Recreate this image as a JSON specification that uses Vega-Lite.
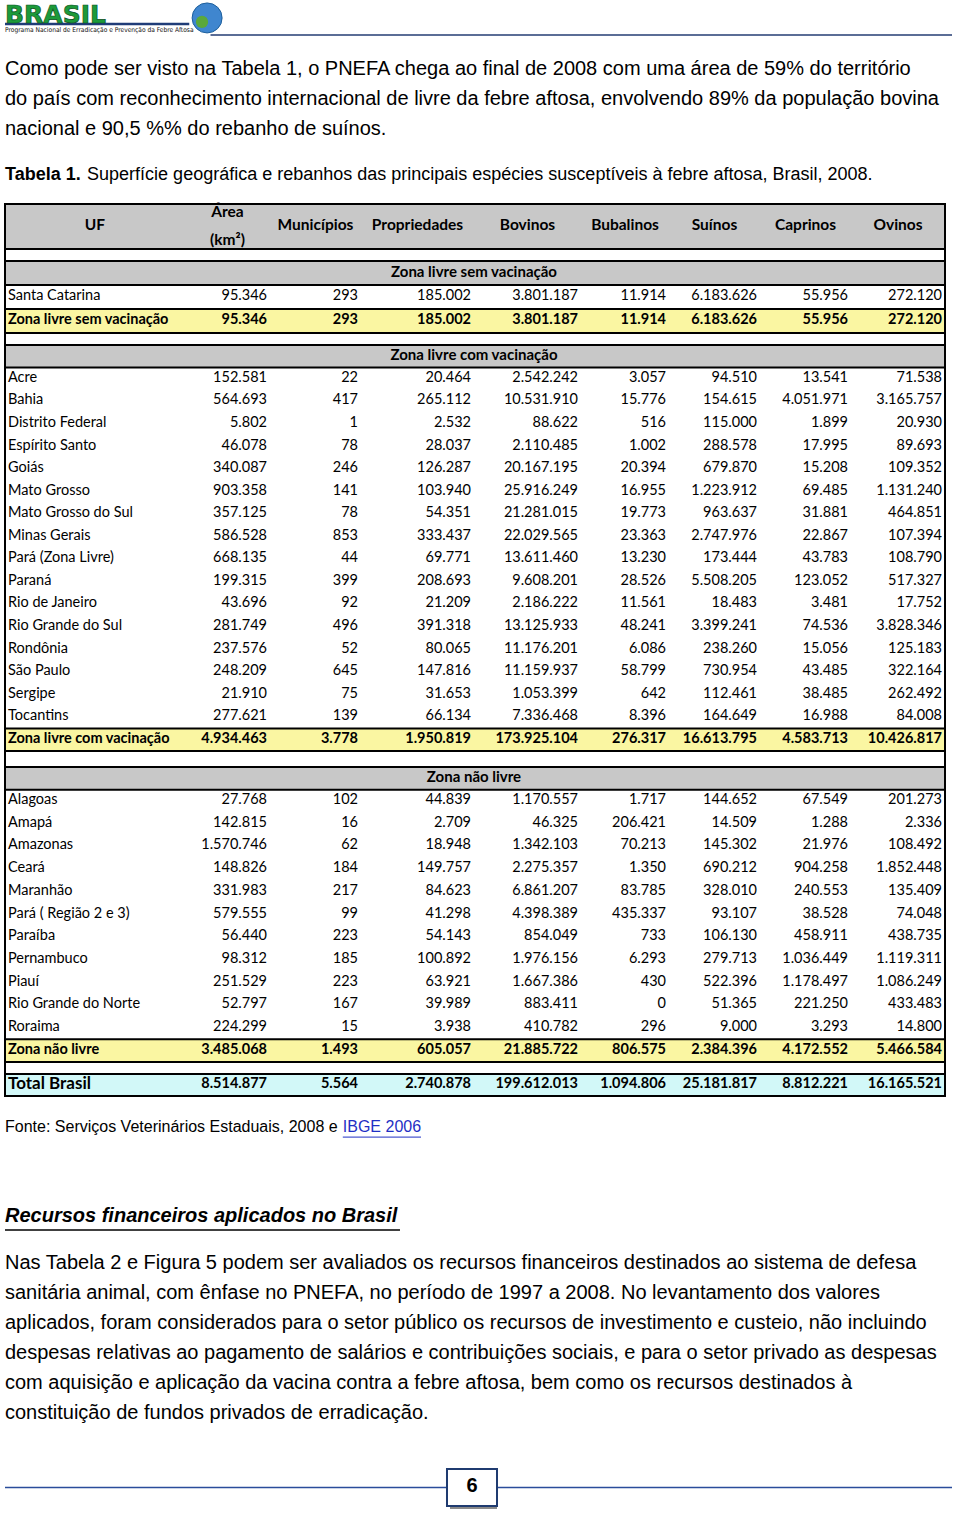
{
 "$schema": "https://vega.github.io/schema/vega-lite/v6.json",
 "width": 960, "height": 1513,
 "autosize": {"type": "fit", "contains": "padding"},
 "padding": 0,
 "background": "white",
 "config": {"view": {"stroke": null}, "locale": {"number": {"decimal": ",", "thousands": ".", "grouping": [3], "currency": ["R$", ""]}}},
 "datasets": {
  "colunas": [
   {"campo":"uf","rotulo":"UF","meio":1.5,"fim":2},
   {"campo":"area","rotulo":"Área\n(km²)","meio":2.5,"fim":3},
   {"campo":"municipios","rotulo":"Municípios","meio":3.5,"fim":4},
   {"campo":"propriedades","rotulo":"Propriedades","meio":4.5,"fim":5},
   {"campo":"bovinos","rotulo":"Bovinos","meio":5.5,"fim":6},
   {"campo":"bubalinos","rotulo":"Bubalinos","meio":6.5,"fim":7},
   {"campo":"suinos","rotulo":"Suínos","meio":7.5,"fim":8},
   {"campo":"caprinos","rotulo":"Caprinos","meio":8.5,"fim":9},
   {"campo":"ovinos","rotulo":"Ovinos","meio":9.5,"fim":10}
  ],
  "paragrafos": [
   {"bloco":"p1","linha":1,"texto":"Como pode ser visto na Tabela 1, o PNEFA chega ao final de 2008 com uma área de 59% do território"},
   {"bloco":"p1","linha":2,"texto":"do país com reconhecimento internacional de livre da febre aftosa, envolvendo 89% da população bovina"},
   {"bloco":"p1","linha":3,"texto":"nacional e 90,5 %% do rebanho de suínos."},
   {"bloco":"p2","linha":1,"texto":"Nas Tabela 2 e Figura 5 podem ser avaliados os recursos financeiros destinados ao sistema de defesa"},
   {"bloco":"p2","linha":2,"texto":"sanitária animal, com ênfase no PNEFA, no período de 1997 a 2008. No levantamento dos valores"},
   {"bloco":"p2","linha":3,"texto":"aplicados, foram considerados para o setor público os recursos de investimento e custeio, não incluindo"},
   {"bloco":"p2","linha":4,"texto":"despesas relativas ao pagamento de salários e contribuições sociais, e para o setor privado as despesas"},
   {"bloco":"p2","linha":5,"texto":"com aquisição e aplicação da vacina contra a febre aftosa, bem como os recursos destinados à"},
   {"bloco":"p2","linha":6,"texto":"constituição de fundos privados de erradicação."}
  ],
  "tabela": [
   {"zona":"Zona livre sem vacinação","tipo":"estado","uf":"Santa Catarina","area":95346,"municipios":293,"propriedades":185002,"bovinos":3801187,"bubalinos":11914,"suinos":6183626,"caprinos":55956,"ovinos":272120},
   {"zona":"Zona livre sem vacinação","tipo":"total","uf":"Zona livre sem vacinação","area":95346,"municipios":293,"propriedades":185002,"bovinos":3801187,"bubalinos":11914,"suinos":6183626,"caprinos":55956,"ovinos":272120},
   {"zona":"Zona livre com vacinação","tipo":"estado","uf":"Acre","area":152581,"municipios":22,"propriedades":20464,"bovinos":2542242,"bubalinos":3057,"suinos":94510,"caprinos":13541,"ovinos":71538},
   {"zona":"Zona livre com vacinação","tipo":"estado","uf":"Bahia","area":564693,"municipios":417,"propriedades":265112,"bovinos":10531910,"bubalinos":15776,"suinos":154615,"caprinos":4051971,"ovinos":3165757},
   {"zona":"Zona livre com vacinação","tipo":"estado","uf":"Distrito Federal","area":5802,"municipios":1,"propriedades":2532,"bovinos":88622,"bubalinos":516,"suinos":115000,"caprinos":1899,"ovinos":20930},
   {"zona":"Zona livre com vacinação","tipo":"estado","uf":"Espírito Santo","area":46078,"municipios":78,"propriedades":28037,"bovinos":2110485,"bubalinos":1002,"suinos":288578,"caprinos":17995,"ovinos":89693},
   {"zona":"Zona livre com vacinação","tipo":"estado","uf":"Goiás","area":340087,"municipios":246,"propriedades":126287,"bovinos":20167195,"bubalinos":20394,"suinos":679870,"caprinos":15208,"ovinos":109352},
   {"zona":"Zona livre com vacinação","tipo":"estado","uf":"Mato Grosso","area":903358,"municipios":141,"propriedades":103940,"bovinos":25916249,"bubalinos":16955,"suinos":1223912,"caprinos":69485,"ovinos":1131240},
   {"zona":"Zona livre com vacinação","tipo":"estado","uf":"Mato Grosso do Sul","area":357125,"municipios":78,"propriedades":54351,"bovinos":21281015,"bubalinos":19773,"suinos":963637,"caprinos":31881,"ovinos":464851},
   {"zona":"Zona livre com vacinação","tipo":"estado","uf":"Minas Gerais","area":586528,"municipios":853,"propriedades":333437,"bovinos":22029565,"bubalinos":23363,"suinos":2747976,"caprinos":22867,"ovinos":107394},
   {"zona":"Zona livre com vacinação","tipo":"estado","uf":"Pará (Zona Livre)","area":668135,"municipios":44,"propriedades":69771,"bovinos":13611460,"bubalinos":13230,"suinos":173444,"caprinos":43783,"ovinos":108790},
   {"zona":"Zona livre com vacinação","tipo":"estado","uf":"Paraná","area":199315,"municipios":399,"propriedades":208693,"bovinos":9608201,"bubalinos":28526,"suinos":5508205,"caprinos":123052,"ovinos":517327},
   {"zona":"Zona livre com vacinação","tipo":"estado","uf":"Rio de Janeiro","area":43696,"municipios":92,"propriedades":21209,"bovinos":2186222,"bubalinos":11561,"suinos":18483,"caprinos":3481,"ovinos":17752},
   {"zona":"Zona livre com vacinação","tipo":"estado","uf":"Rio Grande do Sul","area":281749,"municipios":496,"propriedades":391318,"bovinos":13125933,"bubalinos":48241,"suinos":3399241,"caprinos":74536,"ovinos":3828346},
   {"zona":"Zona livre com vacinação","tipo":"estado","uf":"Rondônia","area":237576,"municipios":52,"propriedades":80065,"bovinos":11176201,"bubalinos":6086,"suinos":238260,"caprinos":15056,"ovinos":125183},
   {"zona":"Zona livre com vacinação","tipo":"estado","uf":"São Paulo","area":248209,"municipios":645,"propriedades":147816,"bovinos":11159937,"bubalinos":58799,"suinos":730954,"caprinos":43485,"ovinos":322164},
   {"zona":"Zona livre com vacinação","tipo":"estado","uf":"Sergipe","area":21910,"municipios":75,"propriedades":31653,"bovinos":1053399,"bubalinos":642,"suinos":112461,"caprinos":38485,"ovinos":262492},
   {"zona":"Zona livre com vacinação","tipo":"estado","uf":"Tocantins","area":277621,"municipios":139,"propriedades":66134,"bovinos":7336468,"bubalinos":8396,"suinos":164649,"caprinos":16988,"ovinos":84008},
   {"zona":"Zona livre com vacinação","tipo":"total","uf":"Zona livre com vacinação","area":4934463,"municipios":3778,"propriedades":1950819,"bovinos":173925104,"bubalinos":276317,"suinos":16613795,"caprinos":4583713,"ovinos":10426817},
   {"zona":"Zona não livre","tipo":"estado","uf":"Alagoas","area":27768,"municipios":102,"propriedades":44839,"bovinos":1170557,"bubalinos":1717,"suinos":144652,"caprinos":67549,"ovinos":201273},
   {"zona":"Zona não livre","tipo":"estado","uf":"Amapá","area":142815,"municipios":16,"propriedades":2709,"bovinos":46325,"bubalinos":206421,"suinos":14509,"caprinos":1288,"ovinos":2336},
   {"zona":"Zona não livre","tipo":"estado","uf":"Amazonas","area":1570746,"municipios":62,"propriedades":18948,"bovinos":1342103,"bubalinos":70213,"suinos":145302,"caprinos":21976,"ovinos":108492},
   {"zona":"Zona não livre","tipo":"estado","uf":"Ceará","area":148826,"municipios":184,"propriedades":149757,"bovinos":2275357,"bubalinos":1350,"suinos":690212,"caprinos":904258,"ovinos":1852448},
   {"zona":"Zona não livre","tipo":"estado","uf":"Maranhão","area":331983,"municipios":217,"propriedades":84623,"bovinos":6861207,"bubalinos":83785,"suinos":328010,"caprinos":240553,"ovinos":135409},
   {"zona":"Zona não livre","tipo":"estado","uf":"Pará ( Região 2 e 3)","area":579555,"municipios":99,"propriedades":41298,"bovinos":4398389,"bubalinos":435337,"suinos":93107,"caprinos":38528,"ovinos":74048},
   {"zona":"Zona não livre","tipo":"estado","uf":"Paraíba","area":56440,"municipios":223,"propriedades":54143,"bovinos":854049,"bubalinos":733,"suinos":106130,"caprinos":458911,"ovinos":438735},
   {"zona":"Zona não livre","tipo":"estado","uf":"Pernambuco","area":98312,"municipios":185,"propriedades":100892,"bovinos":1976156,"bubalinos":6293,"suinos":279713,"caprinos":1036449,"ovinos":1119311},
   {"zona":"Zona não livre","tipo":"estado","uf":"Piauí","area":251529,"municipios":223,"propriedades":63921,"bovinos":1667386,"bubalinos":430,"suinos":522396,"caprinos":1178497,"ovinos":1086249},
   {"zona":"Zona não livre","tipo":"estado","uf":"Rio Grande do Norte","area":52797,"municipios":167,"propriedades":39989,"bovinos":883411,"bubalinos":0,"suinos":51365,"caprinos":221250,"ovinos":433483},
   {"zona":"Zona não livre","tipo":"estado","uf":"Roraima","area":224299,"municipios":15,"propriedades":3938,"bovinos":410782,"bubalinos":296,"suinos":9000,"caprinos":3293,"ovinos":14800},
   {"zona":"Zona não livre","tipo":"total","uf":"Zona não livre","area":3485068,"municipios":1493,"propriedades":605057,"bovinos":21885722,"bubalinos":806575,"suinos":2384396,"caprinos":4172552,"ovinos":5466584},
   {"zona":"Brasil","tipo":"brasil","uf":"Total Brasil","area":8514877,"municipios":5564,"propriedades":2740878,"bovinos":199612013,"bubalinos":1094806,"suinos":25181817,"caprinos":8812221,"ovinos":16165521}
  ]
 },
 "resolve": {"scale": {"y": "independent"}},
 "layer": [
  {
   "data": {"values": [{"marca": "BRASIL", "programa": "Programa Nacional de Erradicação e Prevenção da Febre Aftosa"}]},
   "layer": [
    {"mark": {"type": "rule", "stroke": "#5b6d96", "strokeWidth": 2},
     "encoding": {"x": {"datum": 2.3, "type": "quantitative", "axis": null, "scale": {"type":"linear","domain":[0,1,2,3,4,5,6,7,8,9,10,11],"range":[0,5,185,270,361,474,581,669,760,851,945,952],"zero":false,"nice":false}}, "x2": {"datum": 11},
      "y": {"datum": "programa", "type": "nominal", "bandPosition": 0.78, "axis": null, "scale": {"type": "band", "domain": ["marca", "programa"], "range": [2, 38], "paddingInner": 0, "paddingOuter": 0}}}},
    {"mark": {"type": "rule", "stroke": "#1f3c78", "strokeWidth": 2.5},
     "encoding": {"x": {"datum": 1, "type": "quantitative", "axis": null, "scale": {"type":"linear","domain":[0,1,2,3,4,5,6,7,8,9,10,11],"range":[0,5,185,270,361,474,581,669,760,851,945,952],"zero":false,"nice":false}}, "x2": {"datum": 2.05},
      "y": {"datum": "programa", "type": "nominal", "bandPosition": 0.17}}},
    {"mark": {"type": "text", "align": "left", "baseline": "middle", "dy": 3, "font": "DejaVu Sans", "fontWeight": "bold", "fontSize": 25, "fill": "#1c9a3a", "stroke": "#0d4f22", "strokeWidth": 0.7},
     "encoding": {"text": {"field": "marca"}, "x": {"datum": 1, "type": "quantitative", "axis": null, "scale": {"type":"linear","domain":[0,1,2,3,4,5,6,7,8,9,10,11],"range":[0,5,185,270,361,474,581,669,760,851,945,952],"zero":false,"nice":false}},
      "y": {"datum": "marca", "type": "nominal"}}},
    {"mark": {"type": "text", "align": "left", "baseline": "middle", "font": "Liberation Sans Narrow, DejaVu Sans Condensed, Liberation Sans", "fontSize": 6.6, "fill": "#111111"},
     "encoding": {"text": {"field": "programa"}, "x": {"datum": 1, "type": "quantitative", "axis": null, "scale": {"type":"linear","domain":[0,1,2,3,4,5,6,7,8,9,10,11],"range":[0,5,185,270,361,474,581,669,760,851,945,952],"zero":false,"nice":false}},
      "y": {"datum": "programa", "type": "nominal"}}},
    {"mark": {"type": "point", "shape": "circle", "filled": true, "size": 900, "fill": "#3f86cf", "stroke": "#1d5f9c", "strokeWidth": 1, "opacity": 1},
     "encoding": {"x": {"datum": 2.26, "type": "quantitative", "axis": null, "scale": {"type":"linear","domain":[0,1,2,3,4,5,6,7,8,9,10,11],"range":[0,5,185,270,361,474,581,669,760,851,945,952],"zero":false,"nice":false}},
      "y": {"datum": "marca", "type": "nominal", "bandPosition": 0.83}}},
    {"mark": {"type": "point", "shape": "circle", "filled": true, "size": 150, "fill": "#5aa83c", "opacity": 1},
     "encoding": {"x": {"datum": 2.2, "type": "quantitative", "axis": null, "scale": {"type":"linear","domain":[0,1,2,3,4,5,6,7,8,9,10,11],"range":[0,5,185,270,361,474,581,669,760,851,945,952],"zero":false,"nice":false}},
      "y": {"datum": "programa", "type": "nominal", "bandPosition": 0.05}}}
   ]
  },
  {
   "data": {"name": "paragrafos"},
   "transform": [{"filter": "datum.bloco == 'p1'"}],
   "mark": {"type": "text", "align": "left", "baseline": "middle", "dy": -2.5, "font": "Liberation Sans", "fontSize": 20, "fill": "#000000"},
   "encoding": {"text": {"field": "texto"},
    "x": {"datum": 1, "type": "quantitative", "axis": null, "scale": {"type":"linear","domain":[0,1,2,3,4,5,6,7,8,9,10,11],"range":[0,5,185,270,361,474,581,669,760,851,945,952],"zero":false,"nice":false}},
    "y": {"field": "linha", "type": "ordinal", "axis": null, "scale": {"type": "band", "domain": [1, 2, 3], "range": [55, 145], "paddingInner": 0, "paddingOuter": 0}}}
  },
  {
   "data": {"values": [{"rotulo": "Tabela 1.", "titulo": "Superfície geográfica e rebanhos das principais espécies susceptíveis à febre aftosa, Brasil, 2008."}]},
   "layer": [
    {"mark": {"type": "text", "align": "left", "baseline": "middle", "dy": -1.5, "font": "Liberation Sans", "fontWeight": "bold", "fontSize": 18, "fill": "#000000"},
     "encoding": {"text": {"field": "rotulo"}, "x": {"datum": 1, "type": "quantitative", "axis": null, "scale": {"type":"linear","domain":[0,1,2,3,4,5,6,7,8,9,10,11],"range":[0,5,185,270,361,474,581,669,760,851,945,952],"zero":false,"nice":false}},
      "y": {"datum": "legenda", "type": "nominal", "axis": null, "scale": {"type": "band", "domain": ["legenda"], "range": [160, 190], "paddingInner": 0, "paddingOuter": 0}}}},
    {"mark": {"type": "text", "align": "left", "baseline": "middle", "dy": -1.5, "font": "Liberation Sans", "fontSize": 18, "fill": "#000000"},
     "encoding": {"text": {"field": "titulo"}, "x": {"datum": 1.456, "type": "quantitative", "axis": null, "scale": {"type":"linear","domain":[0,1,2,3,4,5,6,7,8,9,10,11],"range":[0,5,185,270,361,474,581,669,760,851,945,952],"zero":false,"nice":false}},
      "y": {"datum": "legenda", "type": "nominal"}}}
   ]
  },
  {
   "layer": [
    {"data": {"values": [{"linha": "cabeçalho"}]},
     "mark": {"type": "rect", "fill": "#c8c8c8", "stroke": "#000000", "strokeWidth": 2},
     "encoding": {"x": {"datum": 1, "type": "quantitative", "axis": null, "scale": {"type":"linear","domain":[0,1,2,3,4,5,6,7,8,9,10,11],"range":[0,5,185,270,361,474,581,669,760,851,945,952],"zero":false,"nice":false}}, "x2": {"datum": 10},
      "y": {"field": "linha", "type": "nominal", "axis": null, "scale": {"type": "band", "domain": ["cabeçalho"], "range": [203, 248], "paddingInner": 0, "paddingOuter": 0}}}},
    {"data": {"name": "colunas"},
     "transform": [{"filter": "datum.campo != 'area'"}],
     "mark": {"type": "text", "align": "center", "baseline": "middle", "dy": -1.5, "font": "Lato", "fontWeight": "bold", "fontSize": 15.5, "fill": "#000000"},
     "encoding": {"text": {"field": "rotulo"}, "x": {"field": "meio", "type": "quantitative", "axis": null, "scale": {"type":"linear","domain":[0,1,2,3,4,5,6,7,8,9,10,11],"range":[0,5,185,270,361,474,581,669,760,851,945,952],"zero":false,"nice":false}},
      "y": {"datum": "cabeçalho", "type": "nominal"}}},
    {"data": {"name": "colunas"},
     "transform": [{"filter": "datum.campo == 'area'"}],
     "mark": {"type": "text", "align": "center", "baseline": "middle", "dy": -15, "font": "Lato", "fontWeight": "bold", "fontSize": 15.5, "lineBreak": "\n", "lineHeight": 28, "fill": "#000000"},
     "encoding": {"text": {"field": "rotulo"}, "x": {"field": "meio", "type": "quantitative", "axis": null, "scale": {"type":"linear","domain":[0,1,2,3,4,5,6,7,8,9,10,11],"range":[0,5,185,270,361,474,581,669,760,851,945,952],"zero":false,"nice":false}},
      "y": {"datum": "cabeçalho", "type": "nominal"}}}
   ]
  },
  {
   "data": {"name": "tabela"},
   "transform": [{"filter": "datum.zona == 'Zona livre sem vacinação'"}],
   "layer": [
    {"transform": [{"filter": "datum.tipo == 'total'"}],
     "mark": {"type": "rect", "fill": "#c8c8c8", "stroke": "#000000", "strokeWidth": 2},
     "encoding": {"x": {"datum": 1, "type": "quantitative", "axis": null, "scale": {"type":"linear","domain":[0,1,2,3,4,5,6,7,8,9,10,11],"range":[0,5,185,270,361,474,581,669,760,851,945,952],"zero":false,"nice":false}}, "x2": {"datum": 10},
      "y": {"datum": "título", "type": "nominal", "axis": null, "scale": {"type": "band", "domain": ["título", "Santa Catarina", "Zona livre sem vacinação"], "range": [260, 332], "paddingInner": 0, "paddingOuter": 0}}}},
    {"transform": [{"filter": "datum.tipo == 'total'"}],
     "mark": {"type": "rect", "fill": "#faf6a2", "stroke": "#000000", "strokeWidth": 2},
     "encoding": {"x": {"datum": 1, "type": "quantitative", "axis": null, "scale": {"type":"linear","domain":[0,1,2,3,4,5,6,7,8,9,10,11],"range":[0,5,185,270,361,474,581,669,760,851,945,952],"zero":false,"nice":false}}, "x2": {"datum": 10},
      "y": {"field": "uf", "type": "nominal"}}},
    {"transform": [{"filter": "datum.tipo == 'total'"}],
     "mark": {"type": "text", "align": "center", "baseline": "middle", "dy": -1, "font": "Lato", "fontWeight": "bold", "fontSize": 15, "fill": "#000000"},
     "encoding": {"text": {"field": "zona"}, "x": {"datum": 5, "type": "quantitative", "axis": null, "scale": {"type":"linear","domain":[0,1,2,3,4,5,6,7,8,9,10,11],"range":[0,5,185,270,361,474,581,669,760,851,945,952],"zero":false,"nice":false}},
      "y": {"datum": "título", "type": "nominal"}}},
    {"transform": [{"filter": "datum.tipo == 'estado'"}],
     "mark": {"type": "text", "align": "left", "baseline": "middle", "dx": 3, "dy": -1, "font": "Lato", "fontSize": 14.5, "fill": "#000000"},
     "encoding": {"text": {"field": "uf"}, "x": {"datum": 1, "type": "quantitative", "axis": null, "scale": {"type":"linear","domain":[0,1,2,3,4,5,6,7,8,9,10,11],"range":[0,5,185,270,361,474,581,669,760,851,945,952],"zero":false,"nice":false}},
      "y": {"field": "uf", "type": "nominal"}}},
    {"transform": [{"filter": "datum.tipo == 'total'"}],
     "mark": {"type": "text", "align": "left", "baseline": "middle", "dx": 3, "dy": -1, "font": "Lato", "fontWeight": "bold", "fontSize": 14.5, "fill": "#000000"},
     "encoding": {"text": {"field": "uf"}, "x": {"datum": 1, "type": "quantitative", "axis": null, "scale": {"type":"linear","domain":[0,1,2,3,4,5,6,7,8,9,10,11],"range":[0,5,185,270,361,474,581,669,760,851,945,952],"zero":false,"nice":false}},
      "y": {"field": "uf", "type": "nominal"}}},
    {"transform": [{"filter": "datum.tipo == 'estado'"}, {"fold": ["area","municipios","propriedades","bovinos","bubalinos","suinos","caprinos","ovinos"], "as": ["coluna","valor"]}, {"lookup": "coluna", "from": {"data": {"name": "colunas"}, "key": "campo", "fields": ["fim"]}}],
     "mark": {"type": "text", "align": "right", "baseline": "middle", "dx": -3, "dy": -1, "font": "Lato", "fontSize": 14.5, "fill": "#000000"},
     "encoding": {"text": {"field": "valor", "type": "quantitative", "format": ",d"}, "x": {"field": "fim", "type": "quantitative", "axis": null, "scale": {"type":"linear","domain":[0,1,2,3,4,5,6,7,8,9,10,11],"range":[0,5,185,270,361,474,581,669,760,851,945,952],"zero":false,"nice":false}},
      "y": {"field": "uf", "type": "nominal"}}},
    {"transform": [{"filter": "datum.tipo == 'total'"}, {"fold": ["area","municipios","propriedades","bovinos","bubalinos","suinos","caprinos","ovinos"], "as": ["coluna","valor"]}, {"lookup": "coluna", "from": {"data": {"name": "colunas"}, "key": "campo", "fields": ["fim"]}}],
     "mark": {"type": "text", "align": "right", "baseline": "middle", "dx": -3, "dy": -1, "font": "Lato", "fontWeight": "bold", "fontSize": 14.5, "fill": "#000000"},
     "encoding": {"text": {"field": "valor", "type": "quantitative", "format": ",d"}, "x": {"field": "fim", "type": "quantitative", "axis": null, "scale": {"type":"linear","domain":[0,1,2,3,4,5,6,7,8,9,10,11],"range":[0,5,185,270,361,474,581,669,760,851,945,952],"zero":false,"nice":false}},
      "y": {"field": "uf", "type": "nominal"}}}
   ]
  },
  {
   "data": {"name": "tabela"},
   "transform": [{"filter": "datum.zona == 'Zona livre com vacinação'"}],
   "layer": [
    {"transform": [{"filter": "datum.tipo == 'total'"}],
     "mark": {"type": "rect", "fill": "#c8c8c8", "stroke": "#000000", "strokeWidth": 2},
     "encoding": {"x": {"datum": 1, "type": "quantitative", "axis": null, "scale": {"type":"linear","domain":[0,1,2,3,4,5,6,7,8,9,10,11],"range":[0,5,185,270,361,474,581,669,760,851,945,952],"zero":false,"nice":false}}, "x2": {"datum": 10},
      "y": {"datum": "título", "type": "nominal", "axis": null, "scale": {"type": "band", "domain": ["título","Acre","Bahia","Distrito Federal","Espírito Santo","Goiás","Mato Grosso","Mato Grosso do Sul","Minas Gerais","Pará (Zona Livre)","Paraná","Rio de Janeiro","Rio Grande do Sul","Rondônia","São Paulo","Sergipe","Tocantins","Zona livre com vacinação"], "range": [344, 750], "paddingInner": 0, "paddingOuter": 0}}}},
    {"transform": [{"filter": "datum.tipo == 'total'"}],
     "mark": {"type": "rect", "fill": "#faf6a2", "stroke": "#000000", "strokeWidth": 2},
     "encoding": {"x": {"datum": 1, "type": "quantitative", "axis": null, "scale": {"type":"linear","domain":[0,1,2,3,4,5,6,7,8,9,10,11],"range":[0,5,185,270,361,474,581,669,760,851,945,952],"zero":false,"nice":false}}, "x2": {"datum": 10},
      "y": {"field": "uf", "type": "nominal"}}},
    {"transform": [{"filter": "datum.tipo == 'total'"}],
     "mark": {"type": "text", "align": "center", "baseline": "middle", "dy": -1, "font": "Lato", "fontWeight": "bold", "fontSize": 15, "fill": "#000000"},
     "encoding": {"text": {"field": "zona"}, "x": {"datum": 5, "type": "quantitative", "axis": null, "scale": {"type":"linear","domain":[0,1,2,3,4,5,6,7,8,9,10,11],"range":[0,5,185,270,361,474,581,669,760,851,945,952],"zero":false,"nice":false}},
      "y": {"datum": "título", "type": "nominal"}}},
    {"transform": [{"filter": "datum.tipo == 'estado'"}],
     "mark": {"type": "text", "align": "left", "baseline": "middle", "dx": 3, "dy": -1, "font": "Lato", "fontSize": 14.5, "fill": "#000000"},
     "encoding": {"text": {"field": "uf"}, "x": {"datum": 1, "type": "quantitative", "axis": null, "scale": {"type":"linear","domain":[0,1,2,3,4,5,6,7,8,9,10,11],"range":[0,5,185,270,361,474,581,669,760,851,945,952],"zero":false,"nice":false}},
      "y": {"field": "uf", "type": "nominal"}}},
    {"transform": [{"filter": "datum.tipo == 'total'"}],
     "mark": {"type": "text", "align": "left", "baseline": "middle", "dx": 3, "dy": -1, "font": "Lato", "fontWeight": "bold", "fontSize": 14.5, "fill": "#000000"},
     "encoding": {"text": {"field": "uf"}, "x": {"datum": 1, "type": "quantitative", "axis": null, "scale": {"type":"linear","domain":[0,1,2,3,4,5,6,7,8,9,10,11],"range":[0,5,185,270,361,474,581,669,760,851,945,952],"zero":false,"nice":false}},
      "y": {"field": "uf", "type": "nominal"}}},
    {"transform": [{"filter": "datum.tipo == 'estado'"}, {"fold": ["area","municipios","propriedades","bovinos","bubalinos","suinos","caprinos","ovinos"], "as": ["coluna","valor"]}, {"lookup": "coluna", "from": {"data": {"name": "colunas"}, "key": "campo", "fields": ["fim"]}}],
     "mark": {"type": "text", "align": "right", "baseline": "middle", "dx": -3, "dy": -1, "font": "Lato", "fontSize": 14.5, "fill": "#000000"},
     "encoding": {"text": {"field": "valor", "type": "quantitative", "format": ",d"}, "x": {"field": "fim", "type": "quantitative", "axis": null, "scale": {"type":"linear","domain":[0,1,2,3,4,5,6,7,8,9,10,11],"range":[0,5,185,270,361,474,581,669,760,851,945,952],"zero":false,"nice":false}},
      "y": {"field": "uf", "type": "nominal"}}},
    {"transform": [{"filter": "datum.tipo == 'total'"}, {"fold": ["area","municipios","propriedades","bovinos","bubalinos","suinos","caprinos","ovinos"], "as": ["coluna","valor"]}, {"lookup": "coluna", "from": {"data": {"name": "colunas"}, "key": "campo", "fields": ["fim"]}}],
     "mark": {"type": "text", "align": "right", "baseline": "middle", "dx": -3, "dy": -1, "font": "Lato", "fontWeight": "bold", "fontSize": 14.5, "fill": "#000000"},
     "encoding": {"text": {"field": "valor", "type": "quantitative", "format": ",d"}, "x": {"field": "fim", "type": "quantitative", "axis": null, "scale": {"type":"linear","domain":[0,1,2,3,4,5,6,7,8,9,10,11],"range":[0,5,185,270,361,474,581,669,760,851,945,952],"zero":false,"nice":false}},
      "y": {"field": "uf", "type": "nominal"}}}
   ]
  },
  {
   "data": {"name": "tabela"},
   "transform": [{"filter": "datum.zona == 'Zona não livre'"}],
   "layer": [
    {"transform": [{"filter": "datum.tipo == 'total'"}],
     "mark": {"type": "rect", "fill": "#c8c8c8", "stroke": "#000000", "strokeWidth": 2},
     "encoding": {"x": {"datum": 1, "type": "quantitative", "axis": null, "scale": {"type":"linear","domain":[0,1,2,3,4,5,6,7,8,9,10,11],"range":[0,5,185,270,361,474,581,669,760,851,945,952],"zero":false,"nice":false}}, "x2": {"datum": 10},
      "y": {"datum": "título", "type": "nominal", "axis": null, "scale": {"type": "band", "domain": ["título","Alagoas","Amapá","Amazonas","Ceará","Maranhão","Pará ( Região 2 e 3)","Paraíba","Pernambuco","Piauí","Rio Grande do Norte","Roraima","Zona não livre"], "range": [766, 1061], "paddingInner": 0, "paddingOuter": 0}}}},
    {"transform": [{"filter": "datum.tipo == 'total'"}],
     "mark": {"type": "rect", "fill": "#faf6a2", "stroke": "#000000", "strokeWidth": 2},
     "encoding": {"x": {"datum": 1, "type": "quantitative", "axis": null, "scale": {"type":"linear","domain":[0,1,2,3,4,5,6,7,8,9,10,11],"range":[0,5,185,270,361,474,581,669,760,851,945,952],"zero":false,"nice":false}}, "x2": {"datum": 10},
      "y": {"field": "uf", "type": "nominal"}}},
    {"transform": [{"filter": "datum.tipo == 'total'"}],
     "mark": {"type": "text", "align": "center", "baseline": "middle", "dy": -1, "font": "Lato", "fontWeight": "bold", "fontSize": 15, "fill": "#000000"},
     "encoding": {"text": {"field": "zona"}, "x": {"datum": 5, "type": "quantitative", "axis": null, "scale": {"type":"linear","domain":[0,1,2,3,4,5,6,7,8,9,10,11],"range":[0,5,185,270,361,474,581,669,760,851,945,952],"zero":false,"nice":false}},
      "y": {"datum": "título", "type": "nominal"}}},
    {"transform": [{"filter": "datum.tipo == 'estado'"}],
     "mark": {"type": "text", "align": "left", "baseline": "middle", "dx": 3, "dy": -1, "font": "Lato", "fontSize": 14.5, "fill": "#000000"},
     "encoding": {"text": {"field": "uf"}, "x": {"datum": 1, "type": "quantitative", "axis": null, "scale": {"type":"linear","domain":[0,1,2,3,4,5,6,7,8,9,10,11],"range":[0,5,185,270,361,474,581,669,760,851,945,952],"zero":false,"nice":false}},
      "y": {"field": "uf", "type": "nominal"}}},
    {"transform": [{"filter": "datum.tipo == 'total'"}],
     "mark": {"type": "text", "align": "left", "baseline": "middle", "dx": 3, "dy": -1, "font": "Lato", "fontWeight": "bold", "fontSize": 14.5, "fill": "#000000"},
     "encoding": {"text": {"field": "uf"}, "x": {"datum": 1, "type": "quantitative", "axis": null, "scale": {"type":"linear","domain":[0,1,2,3,4,5,6,7,8,9,10,11],"range":[0,5,185,270,361,474,581,669,760,851,945,952],"zero":false,"nice":false}},
      "y": {"field": "uf", "type": "nominal"}}},
    {"transform": [{"filter": "datum.tipo == 'estado'"}, {"fold": ["area","municipios","propriedades","bovinos","bubalinos","suinos","caprinos","ovinos"], "as": ["coluna","valor"]}, {"lookup": "coluna", "from": {"data": {"name": "colunas"}, "key": "campo", "fields": ["fim"]}}],
     "mark": {"type": "text", "align": "right", "baseline": "middle", "dx": -3, "dy": -1, "font": "Lato", "fontSize": 14.5, "fill": "#000000"},
     "encoding": {"text": {"field": "valor", "type": "quantitative", "format": ",d"}, "x": {"field": "fim", "type": "quantitative", "axis": null, "scale": {"type":"linear","domain":[0,1,2,3,4,5,6,7,8,9,10,11],"range":[0,5,185,270,361,474,581,669,760,851,945,952],"zero":false,"nice":false}},
      "y": {"field": "uf", "type": "nominal"}}},
    {"transform": [{"filter": "datum.tipo == 'total'"}, {"fold": ["area","municipios","propriedades","bovinos","bubalinos","suinos","caprinos","ovinos"], "as": ["coluna","valor"]}, {"lookup": "coluna", "from": {"data": {"name": "colunas"}, "key": "campo", "fields": ["fim"]}}],
     "mark": {"type": "text", "align": "right", "baseline": "middle", "dx": -3, "dy": -1, "font": "Lato", "fontWeight": "bold", "fontSize": 14.5, "fill": "#000000"},
     "encoding": {"text": {"field": "valor", "type": "quantitative", "format": ",d"}, "x": {"field": "fim", "type": "quantitative", "axis": null, "scale": {"type":"linear","domain":[0,1,2,3,4,5,6,7,8,9,10,11],"range":[0,5,185,270,361,474,581,669,760,851,945,952],"zero":false,"nice":false}},
      "y": {"field": "uf", "type": "nominal"}}}
   ]
  },
  {
   "data": {"name": "tabela"},
   "transform": [{"filter": "datum.tipo == 'brasil'"}],
   "layer": [
    {"mark": {"type": "rect", "fill": "#d2f8f8", "stroke": "#000000", "strokeWidth": 2},
     "encoding": {"x": {"datum": 1, "type": "quantitative", "axis": null, "scale": {"type":"linear","domain":[0,1,2,3,4,5,6,7,8,9,10,11],"range":[0,5,185,270,361,474,581,669,760,851,945,952],"zero":false,"nice":false}}, "x2": {"datum": 10},
      "y": {"field": "uf", "type": "nominal", "axis": null, "scale": {"type": "band", "domain": ["Total Brasil"], "range": [1073, 1095], "paddingInner": 0, "paddingOuter": 0}}}},
    {"mark": {"type": "text", "align": "left", "baseline": "middle", "dx": 3, "dy": -1, "font": "Lato", "fontWeight": "bold", "fontSize": 17, "fill": "#000000"},
     "encoding": {"text": {"field": "uf"}, "x": {"datum": 1, "type": "quantitative", "axis": null, "scale": {"type":"linear","domain":[0,1,2,3,4,5,6,7,8,9,10,11],"range":[0,5,185,270,361,474,581,669,760,851,945,952],"zero":false,"nice":false}},
      "y": {"field": "uf", "type": "nominal"}}},
    {"transform": [{"fold": ["area","municipios","propriedades","bovinos","bubalinos","suinos","caprinos","ovinos"], "as": ["coluna","valor"]}, {"lookup": "coluna", "from": {"data": {"name": "colunas"}, "key": "campo", "fields": ["fim"]}}],
     "mark": {"type": "text", "align": "right", "baseline": "middle", "dx": -3, "dy": -1, "font": "Lato", "fontWeight": "bold", "fontSize": 14.5, "fill": "#000000"},
     "encoding": {"text": {"field": "valor", "type": "quantitative", "format": ",d"}, "x": {"field": "fim", "type": "quantitative", "axis": null, "scale": {"type":"linear","domain":[0,1,2,3,4,5,6,7,8,9,10,11],"range":[0,5,185,270,361,474,581,669,760,851,945,952],"zero":false,"nice":false}},
      "y": {"field": "uf", "type": "nominal"}}}
   ]
  },
  {
   "data": {"values": [{"tabela": "Tabela 1"}]},
   "mark": {"type": "rect", "fill": "transparent", "stroke": "#000000", "strokeWidth": 2},
   "encoding": {"x": {"datum": 1, "type": "quantitative", "axis": null, "scale": {"type":"linear","domain":[0,1,2,3,4,5,6,7,8,9,10,11],"range":[0,5,185,270,361,474,581,669,760,851,945,952],"zero":false,"nice":false}}, "x2": {"datum": 10},
    "y": {"field": "tabela", "type": "nominal", "axis": null, "scale": {"type": "band", "domain": ["Tabela 1"], "range": [203, 1095], "paddingInner": 0, "paddingOuter": 0}}}
  },
  {
   "data": {"values": [{"fonte": "Fonte: Serviços Veterinários Estaduais, 2008 e", "link": "IBGE 2006"}]},
   "layer": [
    {"mark": {"type": "text", "align": "left", "baseline": "middle", "dy": -2, "font": "Liberation Sans", "fontSize": 16, "fill": "#000000"},
     "encoding": {"text": {"field": "fonte"}, "x": {"datum": 1, "type": "quantitative", "axis": null, "scale": {"type":"linear","domain":[0,1,2,3,4,5,6,7,8,9,10,11],"range":[0,5,185,270,361,474,581,669,760,851,945,952],"zero":false,"nice":false}},
      "y": {"datum": "fonte", "type": "nominal", "axis": null, "scale": {"type": "band", "domain": ["fonte"], "range": [1113, 1143], "paddingInner": 0, "paddingOuter": 0}}}},
    {"mark": {"type": "text", "align": "left", "baseline": "middle", "dy": -2, "font": "Liberation Sans", "fontSize": 16, "fill": "#1f2fc4"},
     "encoding": {"text": {"field": "link"}, "x": {"datum": 3.8, "type": "quantitative", "axis": null, "scale": {"type":"linear","domain":[0,1,2,3,4,5,6,7,8,9,10,11],"range":[0,5,185,270,361,474,581,669,760,851,945,952],"zero":false,"nice":false}},
      "y": {"datum": "fonte", "type": "nominal"}}},
    {"mark": {"type": "rule", "stroke": "#1f2fc4", "strokeWidth": 1},
     "encoding": {"x": {"datum": 3.8, "type": "quantitative", "axis": null, "scale": {"type":"linear","domain":[0,1,2,3,4,5,6,7,8,9,10,11],"range":[0,5,185,270,361,474,581,669,760,851,945,952],"zero":false,"nice":false}}, "x2": {"datum": 4.531},
      "y": {"datum": "fonte", "type": "nominal", "bandPosition": 0.77}}}
   ]
  },
  {
   "data": {"values": [{"titulo": "Recursos financeiros aplicados no Brasil"}]},
   "layer": [
    {"mark": {"type": "text", "align": "left", "baseline": "middle", "dy": -2, "font": "Liberation Sans", "fontWeight": "bold", "fontStyle": "italic", "fontSize": 20, "fill": "#000000"},
     "encoding": {"text": {"field": "titulo"}, "x": {"datum": 1, "type": "quantitative", "axis": null, "scale": {"type":"linear","domain":[0,1,2,3,4,5,6,7,8,9,10,11],"range":[0,5,185,270,361,474,581,669,760,851,945,952],"zero":false,"nice":false}},
      "y": {"datum": "titulo", "type": "nominal", "axis": null, "scale": {"type": "band", "domain": ["titulo"], "range": [1202, 1232], "paddingInner": 0, "paddingOuter": 0}}}},
    {"mark": {"type": "rule", "stroke": "#000000", "strokeWidth": 1.6},
     "encoding": {"x": {"datum": 1, "type": "quantitative", "axis": null, "scale": {"type":"linear","domain":[0,1,2,3,4,5,6,7,8,9,10,11],"range":[0,5,185,270,361,474,581,669,760,851,945,952],"zero":false,"nice":false}}, "x2": {"datum": 4.345},
      "y": {"datum": "titulo", "type": "nominal", "bandPosition": 0.9}}}
   ]
  },
  {
   "data": {"name": "paragrafos"},
   "transform": [{"filter": "datum.bloco == 'p2'"}],
   "mark": {"type": "text", "align": "left", "baseline": "middle", "dy": -1.5, "font": "Liberation Sans", "fontSize": 20, "fill": "#000000"},
   "encoding": {"text": {"field": "texto"},
    "x": {"datum": 1, "type": "quantitative", "axis": null, "scale": {"type":"linear","domain":[0,1,2,3,4,5,6,7,8,9,10,11],"range":[0,5,185,270,361,474,581,669,760,851,945,952],"zero":false,"nice":false}},
    "y": {"field": "linha", "type": "ordinal", "axis": null, "scale": {"type": "band", "domain": [1, 2, 3, 4, 5, 6], "range": [1248, 1429], "paddingInner": 0, "paddingOuter": 0}}}
  },
  {
   "data": {"values": [{"pagina": 6}]},
   "layer": [
    {"mark": {"type": "rule", "stroke": "#2a4d9b", "strokeWidth": 1.5},
     "encoding": {"x": {"datum": 1, "type": "quantitative", "axis": null, "scale": {"type":"linear","domain":[0,1,2,3,4,5,6,7,8,9,10,11],"range":[0,5,185,270,361,474,581,669,760,851,945,952],"zero":false,"nice":false}}, "x2": {"datum": 11},
      "y": {"datum": "página", "type": "nominal", "bandPosition": 0.5, "axis": null, "scale": {"type": "band", "domain": ["página"], "range": [1468, 1505], "paddingInner": 0, "paddingOuter": 0}}}},
    {"mark": {"type": "rect", "fill": "#8a8a8a", "xOffset": 3, "yOffset": 3},
     "encoding": {"x": {"datum": 4.761, "type": "quantitative", "axis": null, "scale": {"type":"linear","domain":[0,1,2,3,4,5,6,7,8,9,10,11],"range":[0,5,185,270,361,474,581,669,760,851,945,952],"zero":false,"nice":false}}, "x2": {"datum": 5.215},
      "y": {"datum": "página", "type": "nominal"}}},
    {"mark": {"type": "rect", "fill": "#ffffff", "stroke": "#1f3b70", "strokeWidth": 2},
     "encoding": {"x": {"datum": 4.761, "type": "quantitative", "axis": null, "scale": {"type":"linear","domain":[0,1,2,3,4,5,6,7,8,9,10,11],"range":[0,5,185,270,361,474,581,669,760,851,945,952],"zero":false,"nice":false}}, "x2": {"datum": 5.215},
      "y": {"datum": "página", "type": "nominal"}}},
    {"mark": {"type": "text", "align": "center", "baseline": "middle", "dy": -2, "font": "Liberation Sans", "fontWeight": "bold", "fontSize": 20, "fill": "#000000"},
     "encoding": {"text": {"field": "pagina", "type": "quantitative"}, "x": {"datum": 4.982, "type": "quantitative", "axis": null, "scale": {"type":"linear","domain":[0,1,2,3,4,5,6,7,8,9,10,11],"range":[0,5,185,270,361,474,581,669,760,851,945,952],"zero":false,"nice":false}},
      "y": {"datum": "página", "type": "nominal"}}}
   ]
  }
 ]
}
